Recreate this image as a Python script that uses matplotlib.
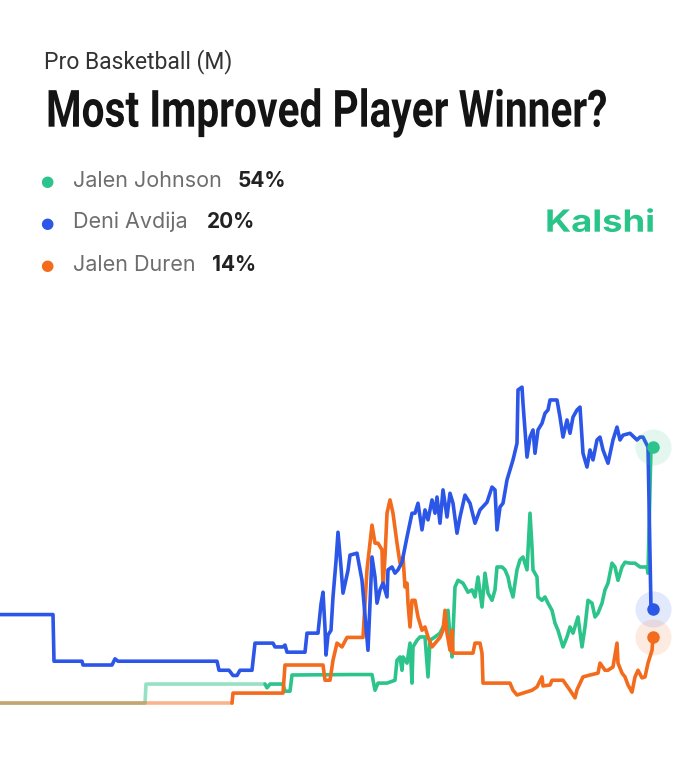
import numpy as np
import matplotlib
matplotlib.use("Agg")
import matplotlib.pyplot as plt
from matplotlib import patheffects as pe
from matplotlib.transforms import Affine2D

# price history (time step, chance in %)
green_t = [0, 145, 146, 265, 267, 270, 283, 285, 290, 292, 350, 372, 375, 378, 387, 395, 397, 400, 402, 403,
           407, 410, 412, 413, 417, 420, 425, 428, 430, 435, 440, 445, 448, 450, 452, 455, 458, 463, 468, 472,
           475, 478, 482, 485, 488, 492, 495, 497, 502, 505, 508, 510, 513, 517, 520, 523, 527, 530, 532, 533,
           537, 538, 542, 545, 548, 552, 555, 558, 563, 567, 570, 573, 578, 582, 585, 588, 592, 595, 598, 602,
           605, 608, 612, 615, 618, 622, 625, 630, 635, 640, 647, 648, 651, 653]
green_v = [0.2, 0.2, 4.2, 4.2, 3.4, 4.2, 4.2, 2.7, 2.7, 6.1, 6.2, 6.2, 2.9, 4.4, 4.4, 5.0, 9.2, 9.9, 7.1, 9.9,
           8.6, 12.8, 4.4, 12.0, 13.4, 14.1, 14.1, 5.7, 13.4, 14.1, 14.9, 17.0, 19.7, 14.1, 9.9, 24.6, 26.0, 25.4, 23.5, 24.0,
           22.5, 26.7, 20.4, 27.5, 23.3, 21.8, 24.0, 28.8, 28.8, 28.2, 26.7, 24.6, 22.5, 28.2, 30.3, 30.9, 28.2, 40.1, 33.0, 28.2,
           26.7, 22.5, 21.8, 22.5, 21.2, 19.7, 17.0, 15.5, 12.0, 14.1, 16.2, 14.9, 18.3, 12.0, 16.2, 21.8, 21.2, 18.3, 19.1, 21.2,
           24.0, 25.4, 29.6, 28.8, 26.0, 28.8, 29.8, 29.6, 29.6, 28.8, 28.8, 27.5, 54.0, 54.0]

blue_t = [0, 53, 54, 82, 83, 112, 115, 118, 217, 219, 229, 233, 237, 240, 252, 255, 273, 275, 283, 285,
          287, 305, 307, 318, 321, 323, 325, 326, 328, 331, 333, 336, 338, 341, 343, 348, 350, 357, 362, 368,
          372, 375, 377, 380, 383, 387, 388, 392, 395, 398, 402, 407, 412, 415, 418, 422, 425, 428, 432, 435,
          437, 440, 443, 447, 450, 453, 457, 460, 465, 470, 475, 480, 487, 492, 495, 497, 500, 503, 507, 510,
          513, 517, 518, 522, 523, 527, 530, 533, 535, 538, 542, 545, 548, 550, 557, 560, 563, 567, 570, 573,
          577, 580, 583, 587, 590, 593, 597, 600, 603, 608, 613, 617, 620, 623, 630, 637, 640, 643, 648, 651,
          653]
blue_v = [18.8, 18.8, 9.0, 9.0, 8.2, 8.2, 9.5, 9.0, 9.0, 7.1, 7.1, 6.0, 6.0, 7.1, 7.1, 12.8, 12.8, 12.0, 12.0, 12.4,
          10.9, 10.9, 14.9, 14.9, 21.0, 23.5, 16.0, 10.3, 14.5, 15.5, 22.5, 30.0, 36.1, 28.8, 23.3, 28.1, 31.3, 31.7, 26.0, 11.3,
          30.9, 26.7, 21.2, 24.0, 25.4, 22.5, 28.2, 28.8, 27.5, 28.2, 29.8, 35.1, 40.1, 40.1, 42.2, 36.6, 40.8, 38.7, 42.9, 40.1,
          43.5, 38.0, 45.0, 39.3, 44.3, 42.2, 35.9, 39.3, 43.9, 42.2, 38.0, 40.8, 42.4, 45.6, 45.0, 36.6, 41.4, 42.2, 47.1, 49.2,
          51.3, 54.8, 66.0, 66.6, 63.2, 51.9, 56.1, 57.6, 52.7, 57.6, 59.0, 61.1, 61.8, 63.9, 63.9, 60.3, 56.1, 59.7, 56.9, 60.3,
          61.8, 62.4, 52.7, 49.8, 53.4, 51.3, 55.5, 56.1, 53.4, 50.6, 55.5, 58.2, 55.5, 56.5, 56.9, 55.5, 56.1, 56.1, 54.0, 20.0,
          20.0]

orange_t = [0, 232, 233, 283, 285, 323, 325, 330, 333, 337, 342, 347, 363, 367, 372, 375, 378, 382, 383, 385,
            387, 390, 393, 397, 400, 403, 405, 407, 408, 410, 412, 415, 418, 422, 425, 428, 432, 440, 443, 445,
            447, 450, 452, 453, 473, 475, 480, 482, 483, 510, 513, 517, 532, 537, 542, 543, 550, 552, 563, 570,
            575, 577, 583, 590, 598, 600, 605, 608, 613, 617, 618, 622, 625, 628, 632, 635, 638, 642, 645, 648,
            652, 653]
orange_v = [0.2, 0.2, 2.3, 2.3, 8.2, 8.2, 5.0, 5.0, 9.2, 12.8, 12.0, 14.0, 14.0, 28.2, 37.6, 33.8, 33.8, 32.4, 24.6, 30.9,
            40.1, 42.9, 40.1, 33.8, 29.6, 30.9, 24.6, 25.4, 21.2, 16.2, 21.8, 21.8, 18.3, 15.5, 16.2, 14.1, 12.0, 14.0, 15.5, 19.7,
            14.9, 11.3, 15.5, 10.7, 10.7, 12.8, 12.8, 10.7, 4.4, 4.4, 2.9, 1.9, 2.9, 3.6, 5.7, 3.8, 4.0, 5.0, 5.0, 2.9,
            1.3, 3.0, 5.7, 6.1, 6.5, 8.6, 7.1, 7.1, 7.8, 12.8, 8.6, 6.5, 5.7, 4.0, 2.5, 5.7, 7.1, 5.5, 5.7, 8.6,
            11.3, 14.0]

names = ["Jalen Johnson", "Deni Avdija", "Jalen Duren"]
last_pct = [54, 20, 14]

GREEN = "#2cc48a"
BLUE = "#2b56e8"
ORANGE = "#f36b1c"

W, H = 700, 759


class Stretch(pe.AbstractPathEffect):
    """Scale glyphs vertically from the baseline (no condensed font installed)."""

    def __init__(self, sy):
        super().__init__()
        self.sy = sy

    def draw_path(self, renderer, gc, tpath, affine, rgbFace=None):
        renderer.draw_path(gc, tpath, Affine2D().scale(1.0, self.sy) + affine, rgbFace)


def fit_text(txt, width_px, height_pt):
    # size the text to a pixel width, then stretch it to the height of height_pt
    fig.canvas.draw()
    bb = txt.get_window_extent()
    size = txt.get_fontsize() * width_px / bb.width
    txt.set_fontsize(size)
    txt.set_path_effects([Stretch(height_pt / size)])


fig = plt.figure(figsize=(W / 100, H / 100), dpi=100)
fig.patch.set_facecolor("white")

# chart area: no axes, only lines
ax = fig.add_axes([0, 0, 1, 0.5652])
ax.set_xlim(0, 700)
ax.set_ylim(-11.55, 78.6)
ax.axis("off")


def draw(t, v, color, fade_to=None):
    t = np.asarray(t, float)
    v = np.asarray(v, float)
    kw = dict(color=color, lw=2.6, solid_capstyle="round", solid_joinstyle="round")
    if fade_to is not None:
        k = np.searchsorted(t, fade_to, side="right")
        ax.plot(t[:k], v[:k], alpha=0.5, **kw)
        t, v = t[k - 1:], v[k - 1:]
    ax.plot(t, v, **kw)


draw(green_t, green_v, GREEN, fade_to=265)
draw(orange_t, orange_v, ORANGE, fade_to=232)
draw(blue_t, blue_v, BLUE)

for t, v, c in [(green_t, green_v, GREEN), (blue_t, blue_v, BLUE), (orange_t, orange_v, ORANGE)]:
    ax.plot(t[-1], v[-1], "o", ms=26, color=c, alpha=0.13, mec="none", clip_on=False)
    ax.plot(t[-1], v[-1], "o", ms=9, color=c, mec="none", clip_on=False)

# header
fig.text(44 / W, 1 - 68.3 / H, "Pro Basketball (M)", fontsize=16.5, family="Roboto",
         color="#333333", va="baseline")
title = fig.text(46 / W, 1 - 126.7 / H, "Most Improved Player Winner?", family="Roboto",
                 weight="bold", fontsize=37, color="#141414", va="baseline")
fit_text(title, 561, 37)

# legend rows
rows_y = [186.7, 228.5, 271]
dots_y = [181.7, 223.3, 266]
colors = [GREEN, BLUE, ORANGE]
pct_x = [237.3, 206.7, 211.7]
for name, pct, y, dy, px, c in zip(names, last_pct, rows_y, dots_y, pct_x, colors):
    fig.text(46.7 / W, 1 - dy / H, "\u25cf", fontsize=11, color=c, ha="center", va="center",
             family="DejaVu Sans")
    fig.text(72.7 / W, 1 - y / H, name, fontsize=15.5, family="Inter", color="#6e6e6e", va="baseline")
    fig.text(px / W, 1 - y / H, f"{pct}%", fontsize=15, family="Inter", weight="bold",
             color="#222222", va="baseline")

kal = fig.text(545 / W, 1 - 231.7 / H, "Kalshi", fontsize=22, family="Inter", weight="bold",
               color="#29c487", va="baseline")
fit_text(kal, 110, 22)

fig.savefig("out.png", dpi=100, facecolor="white")
plt.close(fig)
